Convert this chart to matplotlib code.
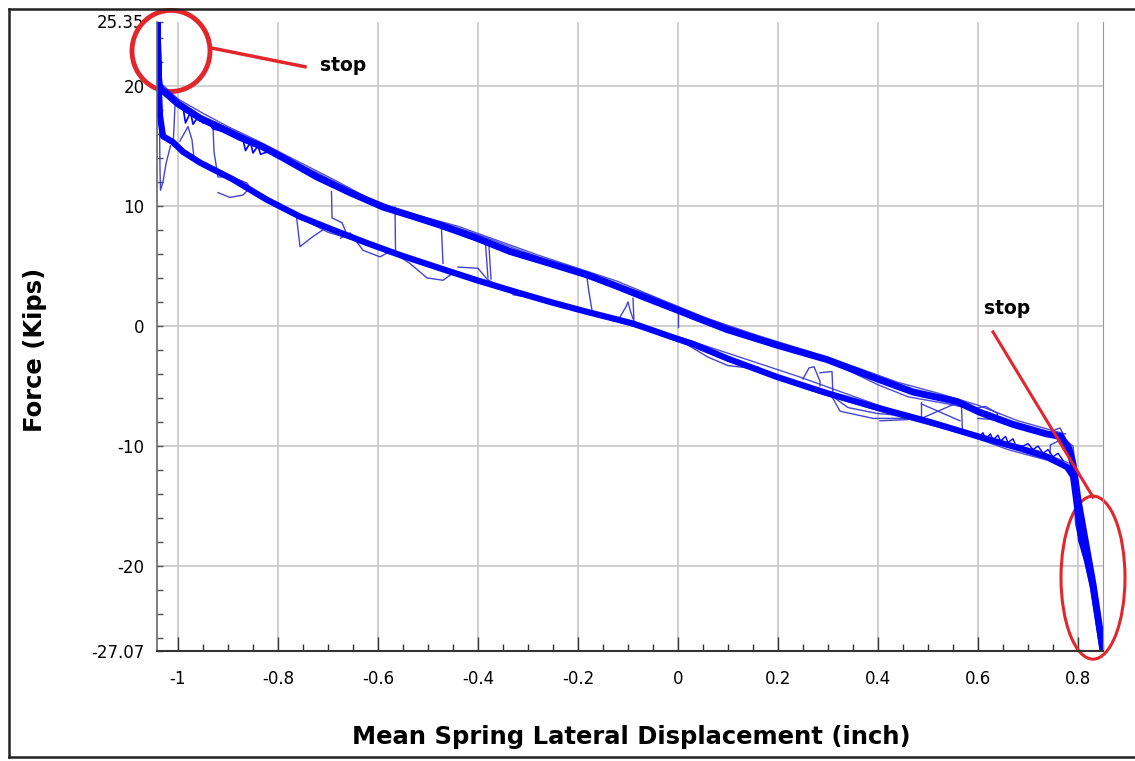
import matplotlib
matplotlib.use("Agg")
import matplotlib.pyplot as plt
from matplotlib.patches import Ellipse
from matplotlib.lines import Line2D
from matplotlib.ticker import MultipleLocator

# loading branch (moving right), kips vs inch
upper_x = [-1.036, -1.0, -0.956, -0.92, -0.876, -0.83, -0.79, -0.722, -0.656, -0.59,
           -0.536, -0.476, -0.402, -0.336, -0.256, -0.182, -0.122, -0.062, 0.0, 0.03,
           0.098, 0.198, 0.298, 0.398, 0.47, 0.558, 0.604, 0.67, 0.738, 0.765, 0.782,
           0.79, 0.80, 0.815, 0.83, 0.85]
upper_y = [19.8, 18.5, 17.3, 16.6, 15.7, 14.9, 14.0, 12.4, 11.1, 9.9,
           9.2, 8.4, 7.3, 6.2, 5.2, 4.25, 3.3, 2.3, 1.3, 0.8,
           -0.3, -1.6, -2.8, -4.4, -5.5, -6.3, -7.2, -8.2, -9.0, -9.2, -10.2,
           -11.5, -14.5, -18.0, -21.5, -27.07]

# unloading branch (moving left)
lower_x = [0.85, 0.842, 0.83, 0.818, 0.806, 0.798, 0.79, 0.778, 0.738, 0.684, 0.604,
           0.504, 0.398, 0.298, 0.198, 0.098, 0.03, 0.0, -0.09, -0.182, -0.256,
           -0.322, -0.402, -0.476, -0.556, -0.622, -0.69, -0.756, -0.822, -0.89,
           -0.956, -0.99, -1.01, -1.03, -1.036, -1.038, -1.041, -1.039, -1.036]
lower_y = [-27.07, -25.0, -21.8, -19.5, -17.8, -15.0, -12.5, -11.75, -10.9, -10.2, -9.25,
           -8.0, -6.8, -5.6, -4.25, -2.7, -1.5, -1.1, 0.2, 1.17, 2.0,
           2.8, 3.8, 4.8, 5.9, 6.9, 8.0, 9.1, 10.5, 12.2,
           13.6, 14.5, 15.3, 15.8, 17.5, 19.5, 25.35, 21.0, 19.8]

# earlier cycles, slightly off the main bundle
cycle2_x = [-1.03, -0.99, -0.94, -0.88, -0.80, -0.72, -0.64, -0.56, -0.48, -0.40, -0.33,
            -0.25, -0.16, -0.06, 0.04, 0.14, 0.24, 0.32, 0.40, 0.46, 0.54, 0.62, 0.70,
            0.76, 0.79, 0.80, 0.825, 0.848]
cycle2_y = [19.4, 18.2, 17.2, 16.1, 14.3, 12.7, 11.0, 9.7, 8.7, 7.6, 6.5,
            5.3, 4.0, 2.6, 0.9, -0.6, -2.0, -3.3, -4.9, -5.9, -6.5, -7.2, -8.6,
            -9.0, -10.0, -13.5, -19.5, -26.0]
cycle2_lx = [0.848, 0.83, 0.81, 0.795, 0.79, 0.74, 0.66, 0.58, 0.50, 0.42, 0.34, 0.26,
             0.18, 0.10, 0.02, -0.06, -0.14, -0.22, -0.30, -0.38, -0.46, -0.54, -0.62,
             -0.70, -0.78, -0.86, -0.94, -1.0, -1.03]
cycle2_ly = [-26.0, -22.5, -19.0, -16.5, -12.2, -11.2, -10.3, -9.1, -8.2, -7.3, -6.3, -5.3,
             -4.1, -2.9, -1.6, -0.4, 0.6, 1.6, 2.6, 3.6, 4.7, 5.8, 6.8, 7.8, 9.5, 11.5,
             13.3, 14.9, 15.6]
cycle3_x = [-1.034, -1.0, -0.95, -0.90, -0.84, -0.76, -0.68, -0.60, -0.52, -0.44, -0.36,
            -0.28, -0.20, -0.12, -0.04, 0.06, 0.16, 0.26, 0.36, 0.44, 0.52, 0.60, 0.68,
            0.74, 0.775]
cycle3_y = [20.2, 18.9, 17.7, 16.6, 15.4, 13.7, 12.0, 10.2, 9.2, 8.3, 7.1,
            5.9, 4.8, 3.7, 2.3, 0.6, -0.8, -2.1, -3.5, -4.7, -5.6, -6.6, -7.9,
            -8.6, -9.0]
cycle3_lx = [0.78, 0.72, 0.64, 0.56, 0.48, 0.40, 0.32, 0.24, 0.16, 0.08, 0.0, -0.08,
             -0.16, -0.24, -0.32, -0.40, -0.48, -0.56, -0.64, -0.72, -0.80, -0.88,
             -0.96, -1.02]
cycle3_ly = [-11.4, -10.4, -9.6, -8.7, -7.7, -6.6, -5.4, -4.2, -3.1, -2.0, -0.9, 0.1,
             1.1, 1.9, 2.9, 3.9, 5.0, 6.0, 7.1, 8.4, 10.2, 12.0, 13.7, 15.4]

# transitions and excursions between the branches
excursions = [
    ([-1.037, -1.036, -1.035, -1.03, -1.024, -1.015], [17.0, 13.0, 11.3, 12.0, 13.5, 15.0]),
    ([-1.006, -1.008, -1.01], [18.4, 16.5, 15.0]),
    ([-0.996, -0.98, -0.972, -0.968], [15.4, 16.6, 15.5, 14.0]),
    ([-0.93, -0.928, -0.92, -0.892, -0.862, -0.856, -0.87, -0.896, -0.92],
     [16.6, 14.5, 12.4, 12.4, 11.9, 11.5, 10.9, 10.7, 11.1]),
    ([-0.763, -0.756, -0.73, -0.71], [9.1, 6.6, 7.45, 8.0]),
    ([-0.693, -0.692, -0.672, -0.662, -0.675], [11.2, 9.0, 8.6, 7.6, 7.3]),
    ([-0.566, -0.565], [9.9, 6.3]),
    ([-0.656, -0.63, -0.596, -0.576], [7.75, 6.3, 5.75, 6.2]),
    ([-0.473, -0.47], [8.0, 5.2]),
    ([-0.385, -0.38], [6.8, 4.0]),
    ([-0.378, -0.374], [6.6, 3.9]),
    ([-0.556, -0.536, -0.502, -0.47, -0.45], [5.75, 5.2, 4.0, 3.8, 4.4]),
    ([-0.44, -0.40, -0.382, -0.356, -0.31, -0.33], [4.9, 4.8, 3.9, 3.2, 2.45, 2.6]),
    ([-0.182, -0.178, -0.172], [4.0, 2.8, 1.3]),
    ([-0.118, -0.104, -0.1, -0.095, -0.09], [0.6, 1.6, 2.0, 1.2, 0.6]),
    ([-0.09, -0.088], [2.3, 0.3]),
    ([0.0, 0.0], [1.4, -0.1]),
    ([0.02, 0.06, 0.10, 0.14, 0.16], [-1.6, -2.6, -3.3, -3.5, -3.4]),
    ([0.25, 0.262, 0.272, 0.284, 0.284], [-4.4, -3.5, -3.4, -4.6, -5.0]),
    ([0.284, 0.308, 0.31], [-3.9, -3.8, -5.9]),
    ([0.308, 0.324, 0.39, 0.464], [-5.9, -7.1, -7.7, -7.7]),
    ([0.31, 0.34, 0.40, 0.46], [-5.9, -6.8, -7.3, -7.5]),
    ([0.487, 0.487, 0.564], [-6.4, -7.7, -6.3]),
    ([0.487, 0.564], [-6.5, -7.9]),
    ([0.567, 0.569], [-6.75, -8.8]),
    ([0.59, 0.615, 0.64, 0.63, 0.60], [-6.9, -6.7, -7.3, -7.8, -7.7]),
    ([0.738, 0.764, 0.774, 0.76, 0.745, 0.744], [-8.9, -8.5, -9.3, -9.6, -9.9, -10.6]),
    ([0.404, 0.46], [-7.9, -7.8]),
]

# rattle on the bands
noise_x = [-1.0, -0.99, -0.985, -0.975, -0.97, -0.96, -0.95, -0.94, -0.93, -0.90,
           -0.87, -0.865, -0.855, -0.85, -0.84, -0.835, -0.82, -0.80]
noise_y = [18.4, 18.2, 16.9, 17.8, 16.8, 17.4, 16.9, 17.0, 16.4, 16.1,
           15.5, 14.6, 15.3, 14.4, 15.0, 14.3, 14.5, 14.0]
noise2_x = [0.60, 0.61, 0.615, 0.625, 0.63, 0.64, 0.645, 0.655, 0.66, 0.67, 0.675,
            0.69, 0.70, 0.71, 0.72, 0.73, 0.74, 0.75, 0.76, 0.77]
noise2_y = [-9.3, -8.9, -9.4, -9.0, -9.5, -9.1, -9.6, -9.2, -9.7, -9.4, -9.9,
            -10.0, -9.8, -10.3, -10.0, -10.6, -10.3, -10.9, -10.6, -11.2]

yticks = [-27.07, -20, -10, 0, 10, 20, 25.35]
ytick_labels = ["-27.07", "-20", "-10", "0", "10", "20", "25.35"]
xticks = [-1.0, -0.8, -0.6, -0.4, -0.2, 0.0, 0.2, 0.4, 0.6, 0.8]
xtick_labels = ["-1", "-0.8", "-0.6", "-0.4", "-0.2", "0", "0.2", "0.4", "0.6", "0.8"]

blue = "#0000ff"
thin = "#3030d0"
red = "#e3262b"

fig = plt.figure(figsize=(11.35, 7.61), dpi=100)
ax = fig.add_axes([157 / 1135, 1 - 651 / 761, (1103 - 157) / 1135, (651 - 21.5) / 761])

for cx, cy in [(cycle2_x, cycle2_y), (cycle2_lx, cycle2_ly),
               (cycle3_x, cycle3_y), (cycle3_lx, cycle3_ly)]:
    ax.plot(cx, cy, color=thin, lw=1.0, alpha=0.85)
for ex_x, ex_y in excursions:
    ax.plot(ex_x, ex_y, color=thin, lw=1.0, alpha=0.9)
ax.plot(noise_x, noise_y, color=blue, lw=1.2)
ax.plot(noise2_x, noise2_y, color=blue, lw=1.0)
ax.plot(upper_x, upper_y, color=blue, lw=5, solid_joinstyle="round")
ax.plot(lower_x, lower_y, color=blue, lw=4.5, solid_joinstyle="round")

ax.set_xlim(-1.042, 0.85)
ax.set_ylim(-27.07, 25.35)

ax.set_xticks(xticks)
ax.set_xticklabels(xtick_labels)
ax.set_yticks(yticks)
ax.set_yticklabels(ytick_labels)
ax.xaxis.set_minor_locator(MultipleLocator(0.05))
ax.yaxis.set_minor_locator(MultipleLocator(2))
ax.tick_params(axis="x", which="major", direction="in", length=10, width=1, color="#333333",
               labelsize=12, pad=14)
ax.tick_params(axis="x", which="minor", direction="in", length=5, width=1, color="#333333")
ax.tick_params(axis="y", which="both", direction="in", length=4, width=1, color="#555555",
               labelsize=12, pad=9)

ax.grid(True, color="#cccccc", lw=1.3)
ygl = ax.get_ygridlines()
ygl[0].set_visible(False)
ygl[-1].set_visible(False)
ax.set_axisbelow(True)

ax.spines["top"].set_visible(False)
ax.spines["right"].set_color("#999999")
ax.spines["left"].set_color("#666666")
ax.spines["bottom"].set_color("#333333")
ax.spines["left"].set_linewidth(1.2)
ax.spines["bottom"].set_linewidth(1.5)

ax.set_xlabel("Mean Spring Lateral Displacement (inch)", fontsize=17.5, fontweight="bold")
ax.xaxis.set_label_coords((631 - 157) / 946, -(725 - 651) / 629.5)
ax.set_ylabel("Force (Kips)", fontsize=17.5, fontweight="bold")
ax.yaxis.set_label_coords(-(157 - 47) / 946, (651 - 350) / 629.5)

# "stop" markers
ax.add_patch(Ellipse((-1.014, 22.9), 0.156, 6.75, fill=False, ec=red, lw=3.5, clip_on=False))
ax.plot([-0.936, -0.746], [23.17, 21.58], color=red, lw=2.5, clip_on=False)
ax.text(-0.67, 21.7, "stop", fontsize=13.5, fontweight="bold", ha="center", va="center")

ax.add_patch(Ellipse((0.83, -20.96), 0.128, 13.58, fill=False, ec=red, lw=2.2, clip_on=False))
ax.plot([0.63, 0.83], [-0.5, -14.25], color=red, lw=2.2, clip_on=False)
ax.text(0.658, 1.42, "stop", fontsize=13.5, fontweight="bold", ha="center", va="center")

# outer border
for xs, ys in [([9, 9], [9, 757]), ([9, 1135], [9, 9]), ([9, 1135], [757, 757])]:
    fig.add_artist(Line2D([v / 1135 for v in xs], [1 - v / 761 for v in ys],
                          color="#222222", lw=1.8))

fig.savefig("out.png", dpi=100, facecolor="white")
